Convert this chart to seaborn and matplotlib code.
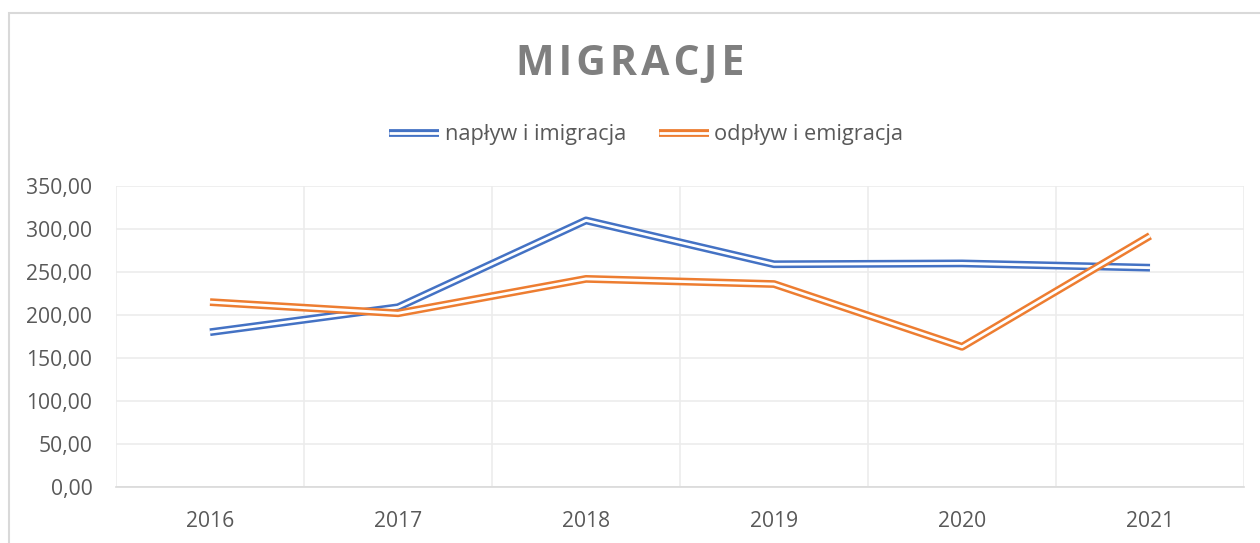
import matplotlib
matplotlib.use("Agg")
import matplotlib.pyplot as plt
import matplotlib.patheffects as pe
from matplotlib.patches import Rectangle
from matplotlib.ticker import FuncFormatter, FixedLocator
import seaborn as sns
import pandas as pd

years = ["2016", "2017", "2018", "2019", "2020", "2021"]
naplyw = [180, 209, 310, 259, 260, 255]
odplyw = [215, 202, 242, 236, 163, 292]
series_names = ["napływ i imigracja", "odpływ i emigracja"]
colors = ["#4472C4", "#ED7D31"]

df = pd.DataFrame({
    "rok": years * 2,
    "wartosc": naplyw + odplyw,
    "seria": [series_names[0]] * len(years) + [series_names[1]] * len(years),
})

sns.set_style("white")
plt.rcParams["font.family"] = ["Open Sans", "DejaVu Sans"]

fig = plt.figure(figsize=(12.6, 5.43), dpi=100)
ax = fig.add_axes([116 / 1260, 56 / 543, 1128 / 1260, 301 / 543])

# outer chart border (cropped at right/bottom like the screenshot)
fig.patches.append(Rectangle((9 / 1260, -0.1), 1.2, 530 / 543 + 0.1,
                             transform=fig.transFigure, fill=False,
                             edgecolor="#d9d9d9", linewidth=1.5))

# double ("compound") line: thick coloured stroke with a white core
for name, col in zip(series_names, colors):
    sub = df[df["seria"] == name]
    sns.lineplot(data=sub, x="rok", y="wartosc", ax=ax, color=col,
                 linewidth=5.6, label=name, sort=False,
                 solid_capstyle="butt",
                 path_effects=[pe.Stroke(linewidth=5.6, foreground=col, capstyle="butt"),
                               pe.Stroke(linewidth=2.0, foreground="white", capstyle="butt")])

ax.set_xlim(-0.5, len(years) - 0.5)
ax.set_ylim(0, 350)
ax.set_yticks(range(0, 351, 50))
ax.yaxis.set_major_formatter(FuncFormatter(lambda v, p: f"{v:.2f}".replace(".", ",")))
ax.xaxis.set_minor_locator(FixedLocator([i - 0.5 for i in range(len(years) + 1)]))

ax.grid(axis="y", which="major", color="#ececec", linewidth=1.2)
ax.grid(axis="x", which="minor", color="#ececec", linewidth=1.2)
ax.grid(axis="x", which="major", visible=False)
ax.set_axisbelow(True)
for s in ["top", "right", "left"]:
    ax.spines[s].set_visible(False)
ax.spines["bottom"].set_color("#d9d9d9")
ax.spines["bottom"].set_linewidth(1.2)

ax.tick_params(axis="y", length=0, pad=17, labelsize=15.2, labelcolor="#595959")
ax.tick_params(axis="x", which="both", length=0, pad=17, labelsize=15.2, labelcolor="#595959")
ax.set_xlabel("")
ax.set_ylabel("")

fig.text(0.5, 0.882, "M\u200aI\u200aG\u200aR\u200aA\u200aC\u200aJ\u200aE", ha="center", va="center",
         fontsize=29.5, fontweight="bold", color="#7f7f7f")

leg = ax.legend(loc="center", bbox_to_anchor=(0.513, 0.752), bbox_transform=fig.transFigure,
                ncol=2, frameon=False, fontsize=15.7, handlelength=2.3,
                handletextpad=0.25, columnspacing=1.5)
for t in leg.get_texts():
    t.set_color("#595959")

fig.savefig("out.png", dpi=100)
